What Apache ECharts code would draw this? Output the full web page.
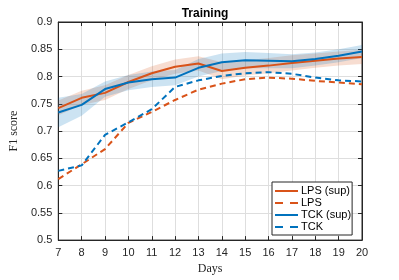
<!DOCTYPE html>
<html><head><meta charset="utf-8">
<script src="https://cdn.jsdelivr.net/npm/echarts@6/dist/echarts.min.js"></script>
<style>html,body{margin:0;padding:0;background:#fff}#c{width:399px;height:280px}</style>
</head><body><div id="c"></div>
<script>
var days = [7,8,9,10,11,12,13,14,15,16,17,18,19,20];
var lpsSup   = [0.742,0.761,0.770,0.790,0.806,0.818,0.824,0.810,0.816,0.820,0.825,0.829,0.833,0.836];
var lpsSupLo = [0.729,0.748,0.757,0.777,0.793,0.805,0.811,0.795,0.802,0.806,0.811,0.816,0.820,0.823];
var lpsSupHi = [0.756,0.774,0.784,0.803,0.819,0.831,0.837,0.826,0.830,0.834,0.839,0.842,0.846,0.849];
var tckSup   = [0.734,0.748,0.777,0.789,0.795,0.798,0.816,0.826,0.830,0.829,0.828,0.832,0.838,0.846];
var tckSupLo = [0.707,0.728,0.763,0.775,0.781,0.784,0.800,0.810,0.815,0.815,0.815,0.820,0.826,0.834];
var tckSupHi = [0.761,0.768,0.791,0.803,0.809,0.812,0.832,0.842,0.845,0.843,0.841,0.844,0.850,0.858];
var lps      = [0.612,0.639,0.667,0.715,0.735,0.757,0.776,0.787,0.795,0.798,0.796,0.792,0.789,0.786];
var tck      = [0.627,0.637,0.693,0.716,0.740,0.781,0.793,0.801,0.806,0.808,0.805,0.798,0.793,0.791];
var yTicks = ['0.5','0.55','0.6','0.65','0.7','0.75','0.8','0.85','0.9'];
var names = ['LPS (sup)','LPS','TCK (sup)','TCK'];

var ORANGE = '#D95319', BLUE = '#0072BD', AX = '#262626';
var sans = 'Liberation Sans, Arial, sans-serif';
var serif = 'Liberation Serif, Times New Roman, serif';
var SOLID_ICON = 'path://M0,0h23v2h-23z';
var DASH_ICON = 'path://M0,0h8v2h-8z M15,0h8v2h-8z';

function pairs(ys){ return days.map(function(d,i){ return [d, ys[i]]; }); }
function band(lo, hi, color){
  return {
    type:'custom', silent:true, z:1, data:[0],
    renderItem:function(params, api){
      var pts = [];
      for (var i=0;i<days.length;i++) pts.push(api.coord([days[i], hi[i]]));
      for (var j=days.length-1;j>=0;j--) pts.push(api.coord([days[j], lo[j]]));
      return {type:'polygon', shape:{points:pts}, style:{fill:color, opacity:0.2}};
    }
  };
}
function line(name, ys, color, dashed){
  return {name:name, type:'line', data:pairs(ys), symbol:'none', z:3,
    lineStyle:{color:color, width:2, type: dashed ? [6,4] : 'solid'}, itemStyle:{color:color}};
}

var chart = echarts.init(document.getElementById('c'));
chart.setOption({
  animation:false,
  title:{text:'Training', left:200, top:3, textAlign:'center',
    textStyle:{fontFamily:sans, fontWeight:'bold', fontSize:12, color:'#000'}},
  grid:{left:52, right:37, top:22, bottom:34, show:true, borderColor:AX, borderWidth:1},
  legend:{orient:'vertical', left:272, top:182,
    data:[
      {name:names[0], icon:SOLID_ICON, itemStyle:{color:ORANGE}},
      {name:names[1], icon:DASH_ICON, itemStyle:{color:ORANGE}},
      {name:names[2], icon:SOLID_ICON, itemStyle:{color:BLUE}},
      {name:names[3], icon:DASH_ICON, itemStyle:{color:BLUE}}
    ],
    backgroundColor:'#fff', borderColor:AX, borderWidth:1, padding:[3,1,2,3],
    itemWidth:23, itemHeight:2, itemGap:0,
    textStyle:{fontFamily:sans, fontSize:11, lineHeight:12, color:'#000', padding:[0,0,0,-2]}},
  xAxis:[
    {type:'value', min:7, max:20, interval:1, name:'Days', nameLocation:'middle', nameGap:21,
     nameTextStyle:{fontFamily:serif, fontSize:12, color:AX},
     axisLine:{show:true, lineStyle:{color:AX}}, axisTick:{inside:true, length:4, lineStyle:{color:AX}},
     axisLabel:{fontFamily:sans, fontSize:11, color:AX, margin:7},
     splitLine:{show:true, lineStyle:{color:'#dedede'}}},
    {type:'value', position:'top', min:7, max:20, interval:1,
     axisLine:{show:true, lineStyle:{color:AX}}, axisTick:{inside:true, length:4, lineStyle:{color:AX}},
     axisLabel:{show:false}, splitLine:{show:false}}
  ],
  yAxis:[
    {type:'value', min:0.5, max:0.9, interval:0.05, name:'F1 score', nameLocation:'middle', nameGap:35,
     nameTextStyle:{fontFamily:serif, fontSize:12, color:AX},
     axisLine:{show:true, lineStyle:{color:AX}}, axisTick:{inside:true, length:4, lineStyle:{color:AX}},
     axisLabel:{fontFamily:sans, fontSize:11, color:AX, margin:6,
       formatter:function(v){ var i=Math.round((v-0.5)/0.05); return yTicks[i]; }},
     splitLine:{show:true, lineStyle:{color:'#dedede'}}},
    {type:'value', position:'right', min:0.5, max:0.9, interval:0.05,
     axisLine:{show:true, lineStyle:{color:AX}}, axisTick:{inside:true, length:4, lineStyle:{color:AX}},
     axisLabel:{show:false}, splitLine:{show:false}}
  ],
  series:[
    band(lpsSupLo, lpsSupHi, ORANGE),
    band(tckSupLo, tckSupHi, BLUE),
    line(names[0], lpsSup, ORANGE, false),
    line(names[1], lps, ORANGE, true),
    line(names[2], tckSup, BLUE, false),
    line(names[3], tck, BLUE, true)
  ]
});
</script></body></html>
